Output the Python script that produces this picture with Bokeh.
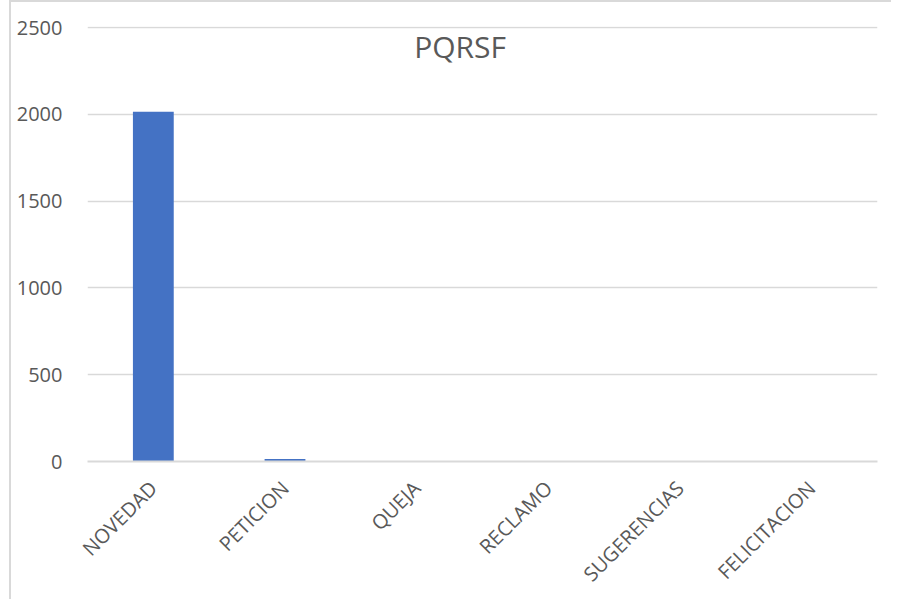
from bokeh.plotting import figure
from bokeh.models import FactorRange, Range1d, Label, FixedTicker, ColumnDataSource
from bokeh.embed import file_html
from bokeh.resources import INLINE
import math

categories = ["NOVEDAD", "PETICION", "QUEJA", "RECLAMO", "SUGERENCIAS", "FELICITACION"]
values = [2015, 14, 3, 0, 0, 0]
y_ticks = [0, 500, 1000, 1500, 2000, 2500]
title_text = "PQRSF"

FONT = "Open Sans"
GREY = "#595959"
GRID = "#d9d9d9"

W, H = 891, 599

src = ColumnDataSource(data=dict(cat=categories, val=values))

border_css = {
    "background-color": "white",
    "background-image": (
        f"linear-gradient(to right, transparent 9px, {GRID} 9px, {GRID} 11px, transparent 11px), "
        f"linear-gradient(to bottom, {GRID} 2px, transparent 2px)"
    ),
    "background-size": "100% 100%, 100% 2px",
    "background-position": "0 0, 9px 0",
    "background-repeat": "no-repeat",
}

p = figure(
    width=W, height=H,
    x_range=FactorRange(*categories, range_padding=0),
    y_range=Range1d(0, 2506),
    output_backend="svg", toolbar_location=None,
    min_border_left=87, min_border_right=W - 877,
    min_border_top=26, min_border_bottom=H - 465,
    styles=border_css,
)
p.outline_line_color = None
p.background_fill_color = "white"
p.border_fill_color = None

p.vbar(x="cat", top="val", width=0.31, source=src, color="#4472C4", line_color=None)

# axes
p.yaxis.ticker = FixedTicker(ticks=y_ticks)
p.yaxis.axis_line_color = None
p.yaxis.major_tick_line_color = None
p.yaxis.minor_tick_line_color = None
p.yaxis.major_label_standoff = 19
p.yaxis.major_label_text_font = FONT
p.yaxis.major_label_text_font_size = "20px"
p.yaxis.major_label_text_color = GREY

p.xaxis.axis_line_color = GRID
p.xaxis.axis_line_width = 2
p.xaxis.major_tick_line_color = None
p.xaxis.minor_tick_line_color = None
p.xaxis.major_label_orientation = math.pi / 4
p.xaxis.major_label_standoff = 17
p.xaxis.major_label_text_font = FONT
p.xaxis.major_label_text_font_size = "20px"
p.xaxis.major_label_text_color = GREY

p.xgrid.grid_line_color = None
p.ygrid.grid_line_color = GRID
p.ygrid.grid_line_width = 1.5

p.add_layout(Label(x=2.83, y=2390, text=title_text, text_font=FONT,
                   text_font_size="30px", text_color=GREY,
                   text_align="center", text_baseline="middle"))

open("out.html", "w").write(file_html(p, INLINE))
